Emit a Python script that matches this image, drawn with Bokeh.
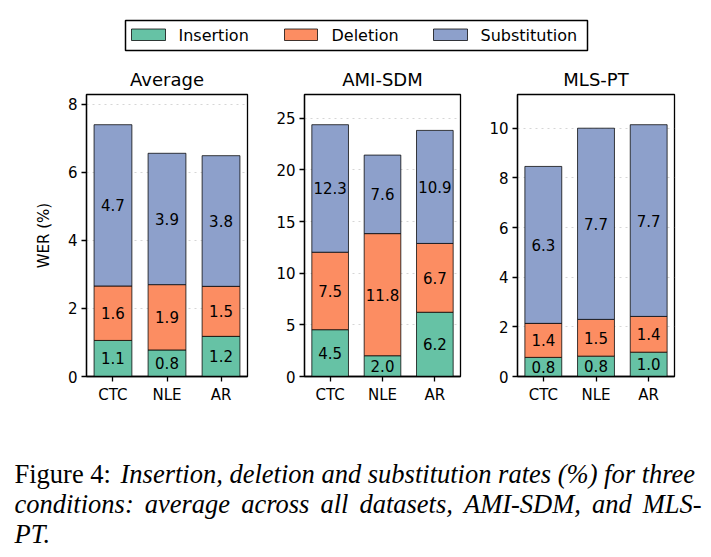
from bokeh.plotting import figure
from bokeh.layouts import column, row
from bokeh.models import Range1d, FixedTicker, ColumnDataSource
from bokeh.embed import file_html
from bokeh.resources import INLINE
from bokeh.core.properties import value

# ---------------- data ----------------
methods = ["CTC", "NLE", "AR"]
components = ["Insertion", "Deletion", "Substitution"]
colors = ["#66c2a5", "#fc8d62", "#8da0cb"]
panel_titles = ["Average", "AMI-SDM", "MLS-PT"]

avg_ins = [1.06, 0.78, 1.18]
avg_del = [1.60, 1.92, 1.47]
avg_sub = [4.74, 3.86, 3.84]

ami_ins = [4.53, 2.01, 6.22]
ami_del = [7.50, 11.82, 6.66]
ami_sub = [12.34, 7.60, 10.94]

mls_ins = [0.77, 0.82, 0.98]
mls_del = [1.37, 1.48, 1.44]
mls_sub = [6.32, 7.70, 7.72]

avg_ticks = [0, 2, 4, 6, 8]
ami_ticks = [0, 5, 10, 15, 20, 25]
mls_ticks = [0, 2, 4, 6, 8, 10]

caption_head = "Figure 4:"
caption_line1 = "Insertion, deletion and substitution rates (%) for three"
caption_line2_words = ["conditions:", "average", "across", "all", "datasets,",
                       "AMI-SDM,", "and", "MLS-"]
caption_line3 = "PT."

FONT = "DejaVu Sans"


def panel(title, ins, dele, sub, ticks, width, left, right, ylabel=None):
    xs = list(range(len(methods)))
    totals = [a + b + c for a, b, c in zip(ins, dele, sub)]
    p = figure(width=width, height=350,
               x_range=Range1d(-0.49, 2.49),
               y_range=Range1d(0, 1.12 * max(totals)),
               output_backend="svg", toolbar_location=None,
               min_border_left=left, min_border_right=right,
               min_border_top=34, min_border_bottom=34)
    src = ColumnDataSource(dict(x=xs, ins=ins, dele=dele, sub=sub))
    p.vbar_stack(["ins", "dele", "sub"], x="x", width=0.7, source=src,
                 fill_color=colors, line_color="black", line_alpha=0.75,
                 line_width=1)
    # segment labels
    lx, ly, lt = [], [], []
    for i in xs:
        bottom = 0.0
        for v in (ins[i], dele[i], sub[i]):
            lx.append(i)
            ly.append(bottom + v / 2)
            lt.append(f"{v:.1f}")
            bottom += v
    p.text(x=lx, y=ly, text=lt, text_align="center", text_baseline="middle",
           text_font=value(FONT), text_font_size="15px", text_color="black")

    p.title.text = title
    p.title.align = "center"
    p.title.text_font = FONT
    p.title.text_font_size = "18px"
    p.title.text_font_style = "normal"
    p.title.text_color = "black"

    p.xaxis.ticker = FixedTicker(ticks=xs)
    p.xaxis.major_label_overrides = {i: m for i, m in enumerate(methods)}
    p.yaxis.ticker = FixedTicker(ticks=ticks)
    for ax in (p.xaxis, p.yaxis):
        ax.major_label_text_font = FONT
        ax.major_label_text_font_size = "15px"
        ax.major_label_text_color = "black"
        ax.axis_line_color = "black"
        ax.axis_line_width = 1.3
        ax.major_tick_line_color = "black"
        ax.major_tick_line_width = 1.3
        ax.major_tick_out = 5
        ax.major_tick_in = 0
        ax.minor_tick_line_color = None
        ax.major_label_standoff = 4
    if ylabel:
        p.yaxis.axis_label = ylabel
        p.yaxis.axis_label_text_font = FONT
        p.yaxis.axis_label_text_font_size = "15px"
        p.yaxis.axis_label_text_font_style = "normal"
        p.yaxis.axis_label_text_color = "black"
        p.yaxis.axis_label_standoff = 12
    p.xgrid.visible = False
    p.ygrid.grid_line_color = "#bbbbbb"
    p.ygrid.grid_line_dash = "dotted"
    p.ygrid.grid_line_alpha = 0.6
    p.outline_line_color = "black"
    p.outline_line_width = 1.3
    p.outline_line_alpha = 1
    p.background_fill_color = "white"
    p.border_fill_color = "white"
    return p


p1 = panel(panel_titles[0], avg_ins, avg_del, avg_sub, avg_ticks, 273, 86, 26, "WER (%)")
p2 = panel(panel_titles[1], ami_ins, ami_del, ami_sub, ami_ticks, 213, 27, 26)
p3 = panel(panel_titles[2], mls_ins, mls_del, mls_sub, mls_ticks, 225, 27, 37)

# ---------------- legend strip ----------------
lg = figure(width=711, height=60, x_range=Range1d(0, 711), y_range=Range1d(60, 0),
            output_backend="svg", toolbar_location=None,
            min_border=0, min_border_left=0, min_border_right=0,
            min_border_top=0, min_border_bottom=0)
lg.axis.visible = False
lg.grid.visible = False
lg.outline_line_color = None
lg.quad(left=[125], right=[587], top=[20], bottom=[50], fill_color="white",
        line_color="black", line_width=1.5)
lg.quad(left=[131, 284, 433], right=[165, 317, 467], top=[28.5, 28.5, 28.5],
        bottom=[40, 40, 40], fill_color=colors, line_color="black",
        line_alpha=0.75, line_width=1)
lg.text(x=[178, 331, 480], y=[34.5, 34.5, 34.5], text=components,
        text_baseline="middle", text_align="left", text_font=value(FONT),
        text_font_size="16px", text_color="black")

# ---------------- caption ----------------
cap = figure(width=711, height=147, x_range=Range1d(0, 711), y_range=Range1d(147, 0),
             output_backend="svg", toolbar_location=None,
             min_border=0, min_border_left=0, min_border_right=0,
             min_border_top=0, min_border_bottom=0)
cap.axis.visible = False
cap.grid.visible = False
cap.outline_line_color = None
SERIF = "Liberation Serif"
CAP_SIZE = "26.5px"
gap = " \u2006"  # slightly widened word gap to imitate the justified line
line2 = caption_line2_words[0] + "  \u2006" + gap.join(caption_line2_words[1:])
cap.text(x=[14], y=[63], text=[caption_head], text_baseline="alphabetic",
         text_font=value(SERIF), text_font_size=CAP_SIZE, text_color="black")
cap.text(x=[120, 14, 14], y=[63, 93, 123], text=[caption_line1, line2, caption_line3],
         text_baseline="alphabetic", text_font=value(SERIF),
         text_font_style="italic", text_font_size=CAP_SIZE, text_color="black")

layout = column(lg, row(p1, p2, p3), cap)
open("out.html", "w").write(file_html(layout, INLINE))
